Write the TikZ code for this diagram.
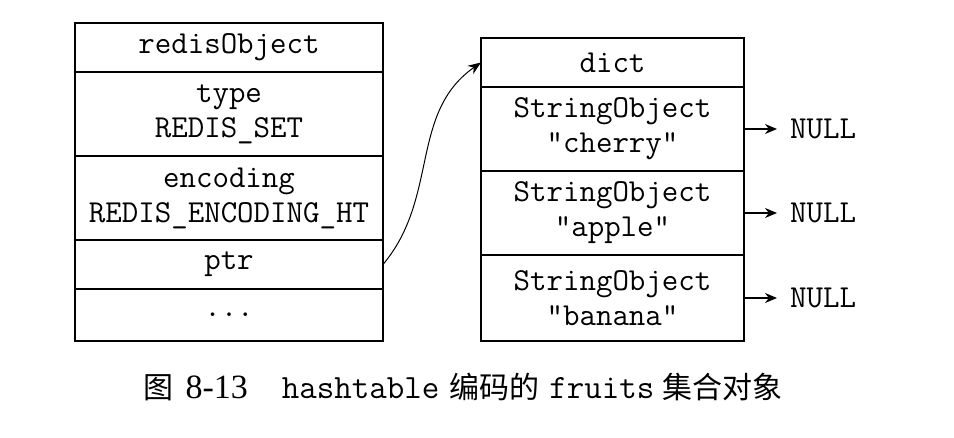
\documentclass[tikz,border=0pt]{standalone}
\usepackage{fontspec}
\newfontfamily\cjkfont{Noto Sans CJK SC}
\newfontfamily\numfont{Liberation Serif}
\usetikzlibrary{arrows.meta,positioning}
\tikzset{
  leftcell/.style={draw,line width=1.3pt,minimum width=308pt,inner sep=0pt,outer sep=0pt,align=center,font=\ttfamily\fontsize{32}{35}\selectfont},
  rightcell/.style={leftcell,minimum width=263pt},
  nulltext/.style={inner sep=0pt,font=\ttfamily\fontsize{32}{35}\selectfont},
  nullarrow/.style={-{Stealth[length=12pt,width=10pt]},line width=1.3pt,shorten >=13pt},
  ptrarrow/.style={-{Stealth[length=13pt,width=10pt]},line width=1pt}
}

\begin{document}
\begin{tikzpicture}[x=1pt,y=1pt]
  \useasboundingbox (0,0) rectangle (954,437);
  % redisObject
  \node[leftcell,minimum height=49pt,anchor=north west] (robj) at (75,414) {redisObject};
  \node[leftcell,minimum height=84pt,below=0pt of robj] (type) {type\\REDIS\_SET};
  \node[leftcell,minimum height=84pt,below=0pt of type] (enc) {encoding\\REDIS\_ENCODING\_HT};
  \node[leftcell,minimum height=49pt,below=0pt of enc] (ptr) {ptr};
  \node[leftcell,minimum height=52pt,below=0pt of ptr] (more) {...};
  % dict
  \node[rightcell,minimum height=49pt,anchor=north west] (dict) at (481,399) {dict};
  \node[rightcell,minimum height=84pt,below=0pt of dict] (cherry) {StringObject\\"cherry"};
  \node[rightcell,minimum height=84pt,below=0pt of cherry] (apple) {StringObject\\"apple"};
  \node[rightcell,minimum height=86pt,below=0pt of apple] (banana) {StringObject\\"banana"};
  \node[nulltext,right=46pt of cherry] (null1) {NULL};
  \node[nulltext,right=46pt of apple] (null2) {NULL};
  \node[nulltext,right=46pt of banana] (null3) {NULL};
  \draw[nullarrow] (cherry.east) -- (null1.west);
  \draw[nullarrow] (apple.east) -- (null2.west);
  \draw[nullarrow] (banana.east) -- (null3.west);
  \draw[ptrarrow] (ptr.east) to[out=50,in=215] (dict.west);
  % caption
  \node[font=\fontsize{30}{36}\selectfont] (caption) at (463,50)
    {\cjkfont 图\hspace{12pt}{\numfont\fontsize{34}{36}\selectfont 8-13}\hspace{34pt}{\ttfamily\fontsize{34}{36}\selectfont hashtable}\hspace{10pt}编码的\hspace{10pt}{\ttfamily\fontsize{34}{36}\selectfont fruits}\hspace{8pt}集合对象};
\end{tikzpicture}
\end{document}
